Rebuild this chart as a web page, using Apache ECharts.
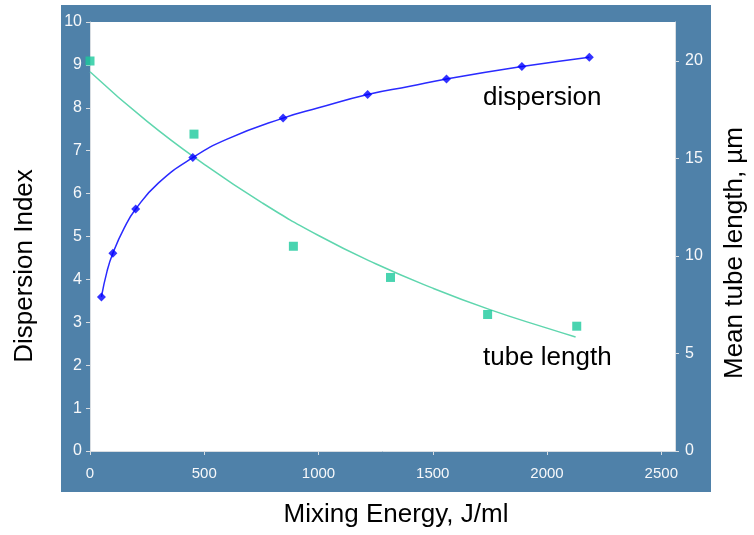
<!DOCTYPE html>
<html>
<head>
<meta charset="utf-8">
<script src="https://cdn.jsdelivr.net/npm/echarts@6/dist/echarts.min.js"></script>
<style>
  html, body { margin: 0; padding: 0; background: #fff; }
  #chart { width: 754px; height: 535px; }
</style>
</head>
<body>
<div id="chart"></div>
<script>
// dispersion index vs mixing energy (left axis)
const dispEnergy = [50, 100, 200, 450, 845, 1215, 1560, 1890, 2185];
const dispIndex = [3.59, 4.61, 5.64, 6.84, 7.76, 8.31, 8.67, 8.96, 9.18];

// dispersion trend curve
const dispTrendEnergy = [50, 75, 100, 150, 200, 300, 450, 600, 845, 1000, 1215, 1400, 1560, 1890, 2185];
const dispTrendIndex = [3.59, 4.2, 4.61, 5.2, 5.64, 6.25, 6.84, 7.27, 7.76, 8.0, 8.31, 8.5, 8.67, 8.96, 9.18];

// mean tube length measurements (right axis, µm)
const tubeEnergy = [0, 455, 890, 1315, 1740, 2130];
const tubeLength = [20.0, 16.25, 10.5, 8.9, 7.0, 6.4];

// tube length trend line
const trendEnergy = [0, 250, 500, 750, 1000, 1250, 1500, 1750, 2000, 2125];
const trendLength = [19.45, 16.9, 14.7, 12.75, 11.05, 9.6, 8.35, 7.25, 6.3, 5.85];

const FONT = '"Liberation Sans", Arial, Helvetica, sans-serif';
const frameColor = '#4f81a9';
const tickText = '#f7f8fa';
const axisGray = '#d8dde2';

const chart = echarts.init(document.getElementById('chart'));

const zip = (xs, ys) => xs.map((x, i) => [x, ys[i]]);

const option = {
  backgroundColor: '#ffffff',
  animation: false,
  textStyle: { fontFamily: FONT },
  graphic: [
    {
      type: 'rect',
      z: -100,
      shape: { x: 61, y: 5, width: 650, height: 487 },
      style: { fill: frameColor }
    },
    {
      type: 'text',
      x: 396, y: 515,
      style: { text: 'Mixing Energy, J/ml', font: '26px ' + FONT, fill: '#000', align: 'center', verticalAlign: 'middle' }
    },
    {
      type: 'text',
      x: 25, y: 266, rotation: Math.PI / 2,
      style: { text: 'Dispersion Index', font: '26px ' + FONT, fill: '#000', align: 'center', verticalAlign: 'middle' }
    },
    {
      type: 'text',
      x: 735, y: 253, rotation: Math.PI / 2,
      style: { text: 'Mean tube length, µm', font: '26px ' + FONT, fill: '#000', align: 'center', verticalAlign: 'middle' }
    },
    {
      type: 'text',
      x: 483, y: 98,
      style: { text: 'dispersion', font: '26px ' + FONT, fill: '#000', align: 'left', verticalAlign: 'middle' }
    },
    {
      type: 'text',
      x: 483, y: 358,
      style: { text: 'tube length', font: '26px ' + FONT, fill: '#000', align: 'left', verticalAlign: 'middle' }
    }
  ],
  grid: {
    left: 90,
    top: 22,
    right: 79,
    bottom: 84,
    show: true,
    backgroundColor: '#ffffff',
    borderWidth: 0
  },
  xAxis: {
    type: 'value',
    min: 0,
    max: 2560,
    interval: 500,
    axisLine: { show: true, lineStyle: { color: axisGray, width: 1 } },
    axisTick: { show: true, length: 4, lineStyle: { color: axisGray } },
    splitLine: { show: false },
    axisLabel: {
      color: tickText, fontSize: 15, margin: 15, showMaxLabel: false,
      formatter: v => String(v)
    }
  },
  yAxis: [
    {
      type: 'value',
      min: 0,
      max: 10,
      interval: 1,
      position: 'left',
      axisLine: { show: true, lineStyle: { color: axisGray } },
      axisTick: { show: true, length: 4, lineStyle: { color: axisGray } },
      splitLine: { show: false },
      axisLabel: { color: tickText, fontSize: 16, margin: 8 }
    },
    {
      type: 'value',
      min: 0,
      max: 22,
      interval: 5,
      position: 'right',
      axisLine: { show: true, lineStyle: { color: axisGray } },
      axisTick: { show: true, length: 4, lineStyle: { color: axisGray } },
      splitLine: { show: false },
      axisLabel: { color: tickText, fontSize: 16, margin: 10, showMaxLabel: false }
    }
  ],
  series: [
    {
      name: 'tube trend',
      type: 'line',
      yAxisIndex: 1,
      data: zip(trendEnergy, trendLength),
      smooth: true,
      showSymbol: false,
      lineStyle: { color: '#5fd6ae', width: 1.5 },
      z: 2
    },
    {
      name: 'dispersion trend',
      type: 'line',
      yAxisIndex: 0,
      data: zip(dispTrendEnergy, dispTrendIndex),
      smooth: true,
      showSymbol: false,
      lineStyle: { color: '#2a2aff', width: 1.5 },
      z: 3
    },
    {
      name: 'dispersion',
      type: 'scatter',
      yAxisIndex: 0,
      data: zip(dispEnergy, dispIndex),
      symbol: 'diamond',
      symbolSize: 9,
      itemStyle: { color: '#0000ff' },
      z: 4
    },
    {
      name: 'tube length',
      type: 'scatter',
      yAxisIndex: 1,
      data: zip(tubeEnergy, tubeLength),
      symbol: 'rect',
      symbolSize: 9,
      clip: false,
      itemStyle: { color: '#1cc99c' },
      z: 4
    }
  ]
};

chart.setOption(option);
</script>
</body>
</html>
